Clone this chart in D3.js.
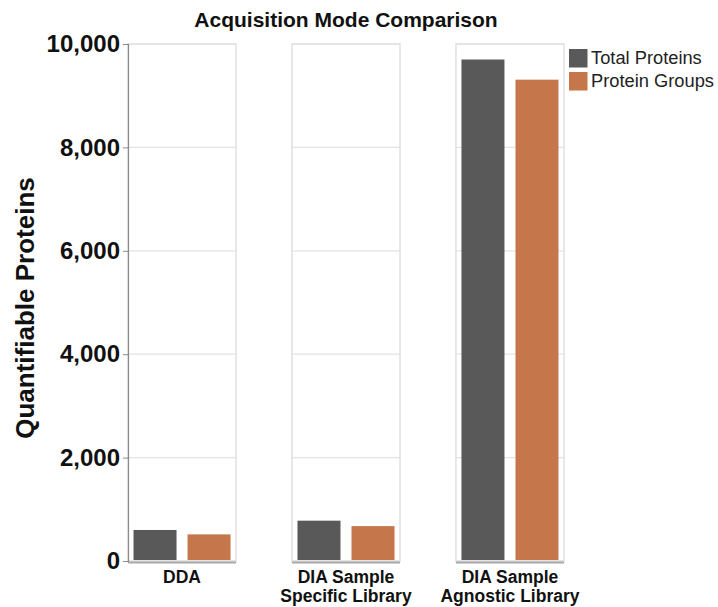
<!DOCTYPE html>
<html><head><meta charset="utf-8">
<script src="https://cdn.jsdelivr.net/npm/d3@7"></script>
<style>body{margin:0;background:#fff;}svg{display:block;font-family:"Liberation Sans",Arial,sans-serif;}</style>
</head><body><svg id="c" width="718" height="607"></svg>
<script>
const categories = [["DDA"], ["DIA Sample", "Specific Library"], ["DIA Sample", "Agnostic Library"]];
const seriesNames = ["Total Proteins", "Protein Groups"];
const totalProteins = [600, 780, 9700];
const proteinGroups = [515, 675, 9310];
const yTicks = [0, 2000, 4000, 6000, 8000, 10000];
const colors = ["#595959", "#c5774b"];

(function () {
const svg = d3.select("#c");
const plotTop = 44, plotBottom = 561, plotLeft = 128;
const y = d3.scaleLinear().domain([0, 10000]).range([plotBottom, plotTop]);
const xPanel = d3.scaleBand().domain(d3.range(categories.length)).range([plotLeft, 564]).paddingInner(0.341).paddingOuter(0);
const xInner = d3.scaleBand().domain(d3.range(seriesNames.length)).range([0, xPanel.bandwidth()]).paddingInner(0.204).paddingOuter(0.102);

svg.append("text").attr("x", 346).attr("y", 27).attr("text-anchor", "middle")
  .attr("font-size", 21).attr("font-weight", "bold").attr("fill", "#111").text("Acquisition Mode Comparison");

categories.forEach((cat, i) => {
  const g = svg.append("g").attr("transform", `translate(${xPanel(i)},0)`);
  const w = xPanel.bandwidth();
  g.selectAll("line.grid").data(yTicks).enter().append("line")
    .attr("x1", 0).attr("x2", w).attr("y1", d => y(d)).attr("y2", d => y(d))
    .attr("stroke", "#e3e3e3").attr("stroke-width", 1.2);
  g.append("rect").attr("x", 0).attr("y", plotTop).attr("width", w).attr("height", plotBottom - plotTop)
    .attr("fill", "none").attr("stroke", "#e0e0e0").attr("stroke-width", 1.5);
  const vals = [totalProteins[i], proteinGroups[i]];
  g.selectAll("rect.bar").data(vals).enter().append("rect")
    .attr("x", (d, j) => xInner(j)).attr("width", xInner.bandwidth())
    .attr("y", d => y(d)).attr("height", d => y(0) - y(d) - 1)
    .attr("fill", (d, j) => colors[j]);
  g.append("line").attr("x1", 0).attr("x2", w).attr("y1", plotBottom + 1.5).attr("y2", plotBottom + 1.5)
    .attr("stroke", "#a8a8a8").attr("stroke-width", 2);
  const t = g.append("text").attr("text-anchor", "middle").attr("font-size", 17.5).attr("font-weight", "bold").attr("fill", "#111");
  cat.forEach((line, k) => t.append("tspan").attr("x", w / 2).attr("y", 583 + k * 19).text(line));
});

const yAxis = d3.axisLeft(y).tickValues(yTicks).tickSize(5).tickPadding(3).tickFormat(d3.format(","));
const ya = svg.append("g").attr("transform", `translate(${plotLeft},0)`).call(yAxis);
ya.select(".domain").attr("stroke", "#8a8a8a").attr("stroke-width", 1.2);
ya.selectAll(".tick line").attr("stroke", "#8a8a8a");
ya.selectAll(".tick text").attr("font-size", 24).attr("font-weight", "bold").attr("fill", "#111")
  .attr("font-family", "'Liberation Sans',Arial,sans-serif");

svg.append("text").attr("transform", "translate(34,308) rotate(-90)").attr("text-anchor", "middle")
  .attr("font-size", 26).attr("font-weight", "bold").attr("fill", "#111").text("Quantifiable Proteins");

const lg = svg.append("g").attr("transform", "translate(569,49)");
seriesNames.forEach((s, i) => {
  lg.append("rect").attr("x", 0).attr("y", i * 23).attr("width", 18.5).attr("height", 18.5).attr("fill", colors[i]);
  lg.append("text").attr("x", 22).attr("y", i * 23.5 + 14.5).attr("font-size", 18.3).attr("fill", "#222").text(s);
});
})();
</script></body></html>
